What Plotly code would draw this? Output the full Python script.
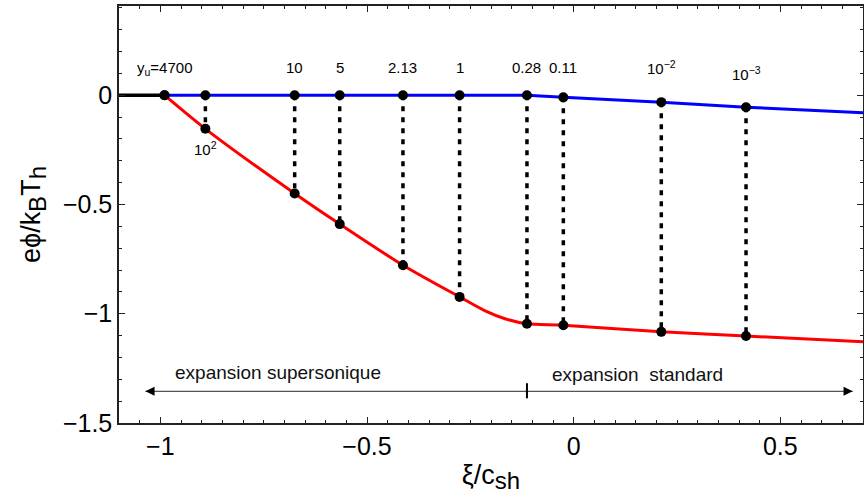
import plotly.graph_objects as go

# ---- data ----
xi_pts = [-0.99, -0.891, -0.675, -0.566, -0.413, -0.276, -0.113, -0.025, 0.212, 0.417]
phi_blue_pts = [0.0, 0.0, 0.0, 0.0, 0.0, 0.0, 0.0, -0.010, -0.032, -0.055]
phi_red_pts = [0.0, -0.154, -0.450, -0.590, -0.778, -0.923, -1.046, -1.053, -1.083, -1.102]
pt_labels = ["y<sub>u</sub>=4700", "10<sup>2</sup>", "10", "5", "2.13", "1", "0.28", "0.11",
             "10<sup>−2</sup>", "10<sup>−3</sup>"]

xi_red = [-0.99, -0.891, -0.675, -0.566, -0.413, -0.276, -0.214, -0.166, -0.113, -0.025, 0.212, 0.417, 0.7]
phi_red = [0.0, -0.154, -0.450, -0.590, -0.778, -0.923, -0.987, -1.023, -1.046, -1.053, -1.083, -1.102, -1.128]

xi_blue = [-0.99, -0.113, -0.025, 0.212, 0.417, 0.7]
phi_blue = [0.0, 0.0, -0.010, -0.032, -0.055, -0.081]

xi_black = [-1.1, -0.99]
phi_black = [0.0, 0.0]

regions = ["expansion supersonique", "expansion  standard"]
region_split = -0.113

FONT = "Liberation Sans"
fig = go.Figure()

# dotted connectors
for x, yb, yr in zip(xi_pts, phi_blue_pts, phi_red_pts):
    if yb != yr:
        fig.add_trace(go.Scatter(x=[x, x], y=[yb, yr], mode="lines",
                                 line=dict(color="black", width=3.5, dash="5px,6px"),
                                 showlegend=False, hoverinfo="skip"))

fig.add_trace(go.Scatter(x=xi_black, y=phi_black, mode="lines",
                         line=dict(color="black", width=3.5), showlegend=False))
fig.add_trace(go.Scatter(x=xi_blue, y=phi_blue, mode="lines",
                         line=dict(color="#0000ff", width=3), showlegend=False))
fig.add_trace(go.Scatter(x=xi_red, y=phi_red, mode="lines",
                         line=dict(color="#ff0000", width=3, shape="spline", smoothing=0.8),
                         showlegend=False))

fig.add_trace(go.Scatter(x=xi_pts + xi_pts, y=phi_blue_pts + phi_red_pts, mode="markers",
                         marker=dict(color="black", size=10), showlegend=False))

# point labels
for i, (x, lab) in enumerate(zip(xi_pts, pt_labels)):
    if i == 1:
        y = phi_red_pts[i] - 0.09
    elif i == 9:
        y = 0.10
    elif i == 0:
        y = 0.12
    else:
        y = 0.127
    fig.add_annotation(x=x, y=y, text=lab, showarrow=False,
                       font=dict(family=FONT, size=15, color="black"))

# region arrow
arrow_y = -1.355
arrow_left = -1.036
arrow_right = 0.675
fig.add_trace(go.Scatter(x=[arrow_left, arrow_right], y=[arrow_y, arrow_y], mode="lines",
                         line=dict(color="#555555", width=1.3), showlegend=False, hoverinfo="skip"))
for tip, tail in [(arrow_left, arrow_left + 0.02), (arrow_right, arrow_right - 0.02)]:
    fig.add_annotation(x=tip, y=arrow_y, ax=tail, ay=arrow_y,
                       xref="x", yref="y", axref="x", ayref="y", text="", showarrow=True,
                       arrowhead=2, arrowsize=1.4, arrowwidth=1.3, arrowcolor="black")
fig.add_trace(go.Scatter(x=[region_split, region_split], y=[arrow_y + 0.037, arrow_y - 0.032],
                         mode="lines", line=dict(color="black", width=2),
                         showlegend=False, hoverinfo="skip"))
fig.add_annotation(x=-0.716, y=-1.27, text=regions[0], showarrow=False,
                   font=dict(family=FONT, size=19, color="#111111"))
fig.add_annotation(x=0.154, y=-1.278, text=regions[1], showarrow=False,
                   font=dict(family=FONT, size=19, color="#111111"))

axis_common = dict(showline=True, linecolor="#222222", linewidth=1.5, mirror="ticks",
                   ticks="inside", ticklen=6, tickcolor="#222222", tickwidth=1,
                   showgrid=False, zeroline=False, automargin=False,
                   tickfont=dict(family=FONT, size=25, color="black"))

sub = '<sub><span style="font-size:24px">{}</span></sub>'

fig.update_xaxes(range=[-1.1, 0.7], tickvals=[-1, -0.5, 0, 0.5], ticktext=["−1", "−0.5", "0", "0.5"],
                 minor=dict(dtick=0.05, tick0=0, ticks="inside", ticklen=3, tickcolor="#222222"),
                 title=dict(text="ξ/c" + sub.format("sh"), font=dict(family=FONT, size=27, color="black"),
                            standoff=6),
                 **axis_common)
fig.update_yaxes(range=[-1.5, 0.408], tickvals=[-1.5, -1, -0.5, 0], ticktext=["−1.5", "−1", "−0.5", "0"],
                 minor=dict(dtick=0.1, tick0=0, ticks="inside", ticklen=3, tickcolor="#222222"),
                 title=dict(text="eϕ/k" + sub.format("B") + "T" + sub.format("h"),
                            font=dict(family=FONT, size=27, color="black"), standoff=14),
                 **axis_common)

fig.update_layout(width=864, height=500, margin=dict(l=119, r=1, t=6, b=77),
                  plot_bgcolor="white", paper_bgcolor="white", showlegend=False)

fig.write_html("out.html", config={"displayModeBar": False},
               post_script="document.body.style.margin='0px';")
